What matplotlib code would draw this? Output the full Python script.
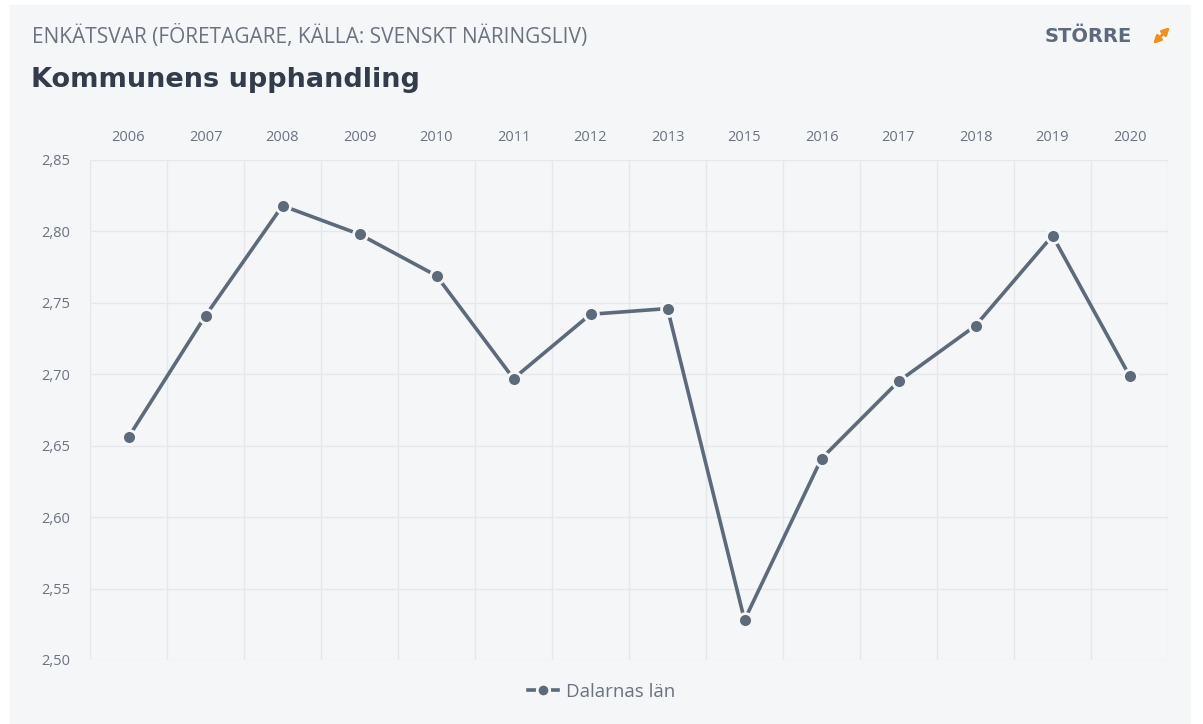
import matplotlib.pyplot as plt
from matplotlib.patches import Rectangle, FancyArrowPatch
from matplotlib.lines import Line2D

years = ['2006', '2007', '2008', '2009', '2010', '2011', '2012',
         '2013', '2015', '2016', '2017', '2018', '2019', '2020']
dalarna = [2.656, 2.741, 2.818, 2.798, 2.769, 2.697, 2.742,
           2.746, 2.528, 2.641, 2.695, 2.734, 2.797, 2.699]
yticks = [2.50, 2.55, 2.60, 2.65, 2.70, 2.75, 2.80, 2.85]

bg = '#f5f6f8'
line_col = '#5d6a7a'
text_col = '#6b7380'

plt.rcParams['font.family'] = ['Open Sans', 'DejaVu Sans']

fig = plt.figure(figsize=(12.03, 7.24), dpi=100, facecolor='white')
fig.patches.append(Rectangle((10 / 1203, 0.0), 1180 / 1203, 1 - 5 / 724,
                             transform=fig.transFigure, color=bg, zorder=-10))

ax = fig.add_axes([90 / 1203, 1 - 660 / 724, 1078 / 1203, 500 / 724])
ax.set_facecolor(bg)

x = list(range(len(years)))
ax.plot(x, dalarna, color=line_col, lw=2.6, marker='o', markersize=10,
        markerfacecolor=line_col, markeredgecolor=bg, markeredgewidth=2,
        zorder=3)

ax.set_xlim(-0.5, len(years) - 0.5)
ax.set_ylim(2.50, 2.85)
ax.set_yticks(yticks)
ax.set_yticklabels([f'{v:.2f}'.replace('.', ',') for v in yticks])
ax.set_xticks(x)
ax.set_xticklabels(years)
ax.xaxis.tick_top()
ax.set_xticks([i - 0.5 for i in range(len(years) + 1)], minor=True)

ax.grid(axis='y', which='major', color='#e5e7eb', lw=1)
ax.grid(axis='x', which='minor', color='#e5e7eb', lw=1)
ax.grid(axis='x', which='major', visible=False)
ax.tick_params(axis='both', which='both', length=0, colors=text_col,
               labelsize=10.5)
ax.tick_params(axis='x', pad=11)
ax.tick_params(axis='y', pad=14)
for s in ax.spines.values():
    s.set_visible(False)

fig.text(32 / 1203, 1 - 37 / 724, 'ENKÄTSVAR (FÖRETAGARE, KÄLLA: SVENSKT NÄRINGSLIV)',
         fontsize=15, color=text_col, va='center', ha='left')
fig.text(31 / 1203, 1 - 80 / 724, 'Kommunens upphandling',
         fontsize=19.5, color='#323c4a', va='center', ha='left', fontweight='bold',
         family='DejaVu Sans')
fig.text(1132 / 1203, 1 - 36 / 724, 'STÖRRE', fontsize=14, color=line_col,
         va='center', ha='right', fontweight='bold', family='DejaVu Sans')
fig.patches.append(FancyArrowPatch(
    (1153 / 1203, 1 - 44 / 724), (1170 / 1203, 1 - 27 / 724),
    transform=fig.transFigure, arrowstyle='<|-|>', mutation_scale=11,
    shrinkA=0, shrinkB=0, color='#f0901e', lw=2))

handle = Line2D([], [], color=line_col, lw=2.6, marker='o', markersize=9,
                markerfacecolor=line_col, markeredgecolor=bg, markeredgewidth=2)
fig.legend([handle], ['Dalarnas län'], loc='center', bbox_to_anchor=(0.5, 1 - 692 / 724),
           frameon=False, fontsize=13.5, labelcolor=text_col, handlelength=1.6,
           handletextpad=0.4)

fig.savefig('out.png', dpi=100, facecolor='white')
